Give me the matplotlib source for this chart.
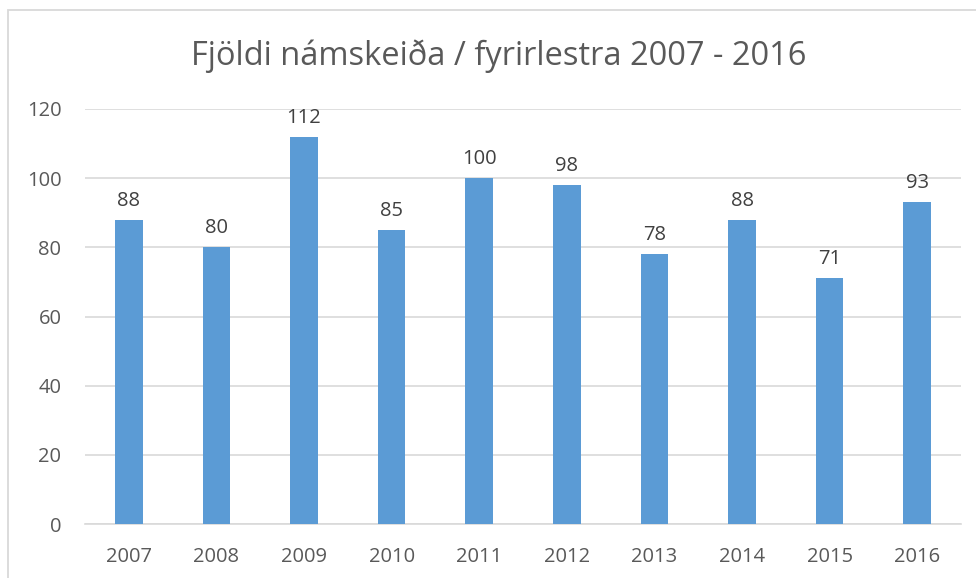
import matplotlib
matplotlib.use("Agg")
import matplotlib.pyplot as plt
from matplotlib.patches import Rectangle

years = ["2007", "2008", "2009", "2010", "2011", "2012", "2013", "2014", "2015", "2016"]
counts = [88, 80, 112, 85, 100, 98, 78, 88, 71, 93]
title = "Fjöldi námskeiða / fyrirlestra 2007 - 2016"

plt.rcParams['font.family'] = ['Open Sans', 'DejaVu Sans']
txt = '#595959'

fig = plt.figure(figsize=(9.76, 5.78), dpi=100)
ax = fig.add_axes([85/976, 54/578, 876/976, 415/578])

# chart frame
fig.patches.append(Rectangle((8/976, -0.1), 1.2, (578-10)/578 + 0.1, transform=fig.transFigure,
                             fill=False, edgecolor='#d9d9d9', linewidth=1.3))

x = range(len(years))
ax.bar(x, counts, width=0.316, color='#5b9bd5', zorder=3)
for i, v in zip(x, counts):
    ax.annotate(str(v), (i, v), xytext=(0, 6.5), textcoords='offset points',
                ha='center', va='bottom', fontsize=14.5, color='#404040')

ax.set_xlim(-0.5, len(years) - 0.5)
ax.set_ylim(0, 120)
ax.set_yticks(range(0, 121, 20))
ax.set_xticks(list(x))
ax.set_xticklabels(years)
ax.grid(axis='y', color='#d9d9d9', linewidth=1.2, zorder=0)
for s in ['top', 'right', 'left']:
    ax.spines[s].set_visible(False)
ax.spines['bottom'].set_color('#d9d9d9')
ax.spines['bottom'].set_linewidth(1.2)
ax.tick_params(length=0, labelsize=14.5, labelcolor=txt)
ax.tick_params(axis='x', pad=16.5)
ax.tick_params(axis='y', pad=17)

fig.text(0.511, 1 - 65/578, title, ha='center', va='baseline', fontsize=23.5, color=txt)

fig.savefig('out.png', dpi=100)
